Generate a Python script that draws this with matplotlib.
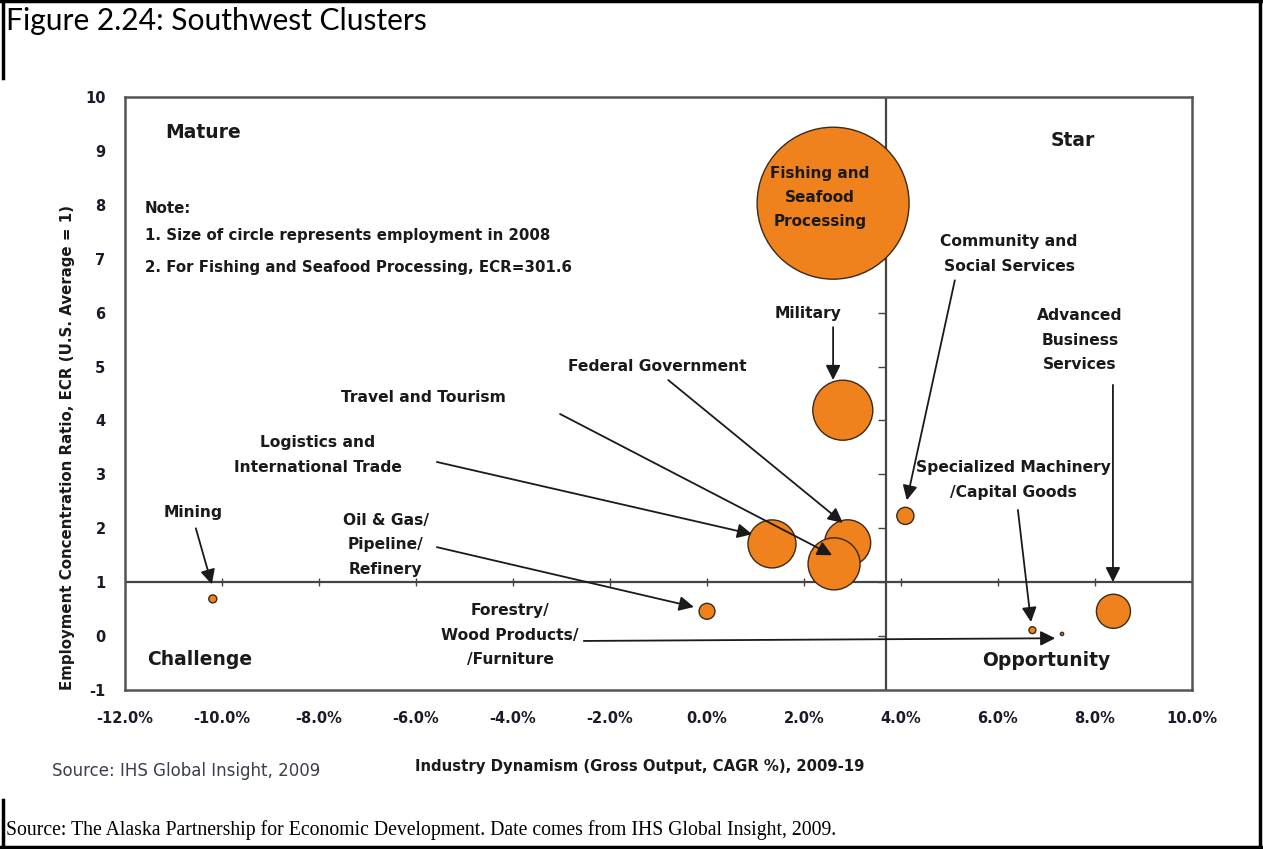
import numpy as np
import matplotlib.pyplot as plt
from matplotlib.lines import Line2D

# cluster data
clusters = ["Fishing and Seafood Processing", "Military", "Federal Government",
            "Travel and Tourism", "Logistics and International Trade", "Oil & Gas/Pipeline/Refinery",
            "Mining", "Forestry/Wood Products/Furniture", "Community and Social Services",
            "Specialized Machinery/Capital Goods", "Advanced Business Services"]
growth = [2.60, 2.80, 2.90, 2.62, 1.34, 0.00, -10.19, 7.32, 4.09, 6.71, 8.38]   # CAGR %
ecr = [8.03, 4.19, 1.73, 1.34, 1.71, 0.46, 0.69, 0.04, 2.23, 0.11, 0.46]
employment = [8660, 1350, 795, 1015, 865, 95, 24, 4, 110, 18, 435]

xticks = np.arange(-12, 10.1, 2)
yticks = np.arange(-1, 11, 1)
xlabels = ["%.1f%%" % v for v in xticks]
ylabels = ["%d" % v for v in yticks]
x_split = 3.7
y_split = 1

FONT = ["DejaVu Sans"]
ORANGE = "#F0821E"

fig = plt.figure(figsize=(12.63, 8.49), dpi=100)
ax = fig.add_axes([125 / 1263, 159 / 849, 1067 / 1263, 593 / 849])

sizes = np.array(employment) / max(employment) * 11970
ax.scatter(growth, ecr, s=sizes, color=ORANGE, edgecolor="#3a2a1a", linewidth=1.0, zorder=3)

ax.set_xlim(-12, 10)
ax.set_ylim(-1, 10)
ax.set_xticks(xticks)
ax.set_xticklabels(xlabels)
ax.set_yticks(yticks)
ax.set_yticklabels(ylabels)
ax.tick_params(length=0, labelsize=10.5, colors="#1a1a2a")
ax.tick_params(axis="x", pad=15)
ax.tick_params(axis="y", pad=14)
for lab in ax.get_xticklabels() + ax.get_yticklabels():
    lab.set_family(FONT)
    lab.set_weight("bold")
for sp in ax.spines.values():
    sp.set_color("#555555")
    sp.set_linewidth(1.8)

# quadrant lines with their tick marks
ax.axhline(y_split, color="#444444", lw=1.6, zorder=1)
ax.axvline(x_split, color="#444444", lw=1.6, zorder=1)
ax.plot(xticks, np.full(len(xticks), y_split), ls="none", marker="|", ms=6, color="#444444", zorder=1)
ax.plot(np.full(len(yticks), x_split), yticks, ls="none", marker=0, ms=6, color="#444444", zorder=1)

tk = dict(family=FONT, weight="bold", color="#1a1a1a")
ax.text(-11.18, 9.35, "Mature", fontsize=13.5, va="center", ha="left", **tk)
ax.text(7.55, 9.2, "Star", fontsize=13.5, va="center", ha="center", **tk)
ax.text(-11.55, -0.43, "Challenge", fontsize=13.5, va="center", ha="left", **tk)
ax.text(6.99, -0.45, "Opportunity", fontsize=13.5, va="center", ha="center", **tk)

ax.text(-11.59, 7.94, "Note:", fontsize=10.8, va="center", ha="left", **tk)
ax.text(-11.59, 7.44, "1. Size of circle represents employment in 2008", fontsize=10.8, va="center", ha="left", **tk)
ax.text(-11.59, 6.83, "2. For Fishing and Seafood Processing, ECR=301.6", fontsize=10.8, va="center", ha="left", **tk)

ax.text(2.33, 8.13, "Fishing and\nSeafood\nProcessing", fontsize=11, ha="center", va="center",
        linespacing=1.75, zorder=4, **tk)

# labels: (text, text pos, arrow tail, arrow head)
notes = [
    ("Military", (2.08, 5.99), (2.60, 5.73), (2.60, 4.75)),
    ("Federal Government", (-1.03, 5.01), (-0.80, 4.75), (2.80, 2.10)),
    ("Travel and Tourism", (-5.84, 4.42), (-3.03, 4.12), (2.58, 1.50)),
    ("Logistics and\nInternational Trade", (-8.02, 3.36), (-5.57, 3.23), (0.93, 1.89)),
    ("Oil & Gas/\nPipeline/\nRefinery", (-6.62, 1.69), (-5.57, 1.65), (-0.27, 0.54)),
    ("Mining", (-10.60, 2.30), (-10.54, 2.00), (-10.21, 0.96)),
    ("Forestry/\nWood Products/\n/Furniture", (-4.06, 0.02), (-2.54, -0.09), (7.18, -0.04)),
    ("Community and\nSocial Services", (6.23, 7.09), (5.11, 6.60), (4.12, 2.52)),
    ("Specialized Machinery\n/Capital Goods", (6.31, 2.89), (6.41, 2.34), (6.68, 0.26)),
    ("Advanced\nBusiness\nServices", (7.69, 5.49), (8.37, 4.66), (8.37, 1.00)),
]
for label, tpos, tail, head in notes:
    ax.text(tpos[0], tpos[1], label, fontsize=11.2, ha="center", va="center", linespacing=1.8, **tk)
    ax.annotate("", xy=head, xytext=tail,
                arrowprops=dict(arrowstyle="-|>", color="#1a1a1a", lw=1.3, mutation_scale=22,
                                shrinkA=0, shrinkB=0), zorder=5)

fig.text(68 / 1263, 1 - 447 / 849, "Employment Concentration Ratio, ECR (U.S. Average = 1)",
         rotation=90, ha="center", va="center", fontsize=10.8, **tk)
fig.text(640 / 1263, 1 - 767 / 849, "Industry Dynamism (Gross Output, CAGR %), 2009-19",
         ha="center", va="center", fontsize=10.7, **tk)
fig.text(52 / 1263, 1 - 771 / 849, "Source: IHS Global Insight, 2009", ha="left", va="center",
         fontsize=12, family=FONT, color="#3a3f50")

fig.text(6 / 1263, 1 - 21 / 849, "Figure 2.24: Southwest Clusters", ha="left", va="center",
         fontsize=21.6, family=["Lato", "DejaVu Sans"], color="black")
fig.text(6 / 1263, 1 - 830 / 849,
         "Source: The Alaska Partnership for Economic Development. Date comes from IHS Global Insight, 2009.",
         ha="left", va="center", fontsize=14.2, family=["Liberation Serif", "DejaVu Serif"], color="black")

# outer frame
frame = dict(color="black", lw=2.5, transform=fig.transFigure)
fig.add_artist(Line2D([0, 1], [0.999, 0.999], **frame))
fig.add_artist(Line2D([0.998, 0.998], [0, 1], **frame))
fig.add_artist(Line2D([0, 1], [0.002, 0.002], **frame))
fig.add_artist(Line2D([0.002, 0.002], [1 - 78 / 849, 1], **frame))
fig.add_artist(Line2D([0.002, 0.002], [0, 1 - 800 / 849], **frame))

fig.savefig("out.png", dpi=100)
